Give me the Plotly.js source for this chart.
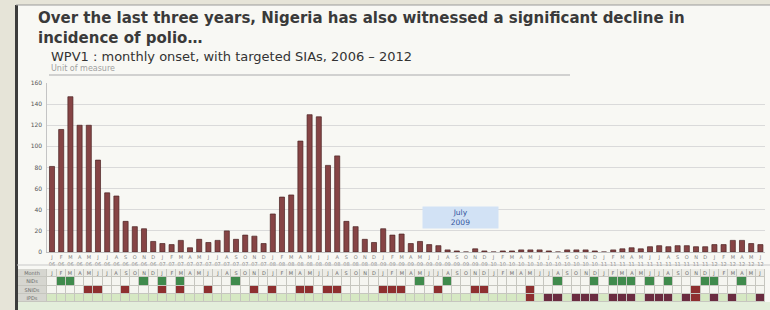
<!DOCTYPE html>
<html>
<head>
<meta charset="utf-8">
<script src="https://cdn.plot.ly/plotly-3.0.1.min.js"></script>
<style>html,body{margin:0;padding:0;background:#e6e4d8;}#chart{width:770px;height:310px;}</style>
</head>
<body>
<div id="chart"></div>
<script>
// ---- data ----
const years = [2006, 2007, 2008, 2009, 2010, 2011, 2012];
const monthInitials = ['J','F','M','A','M','J','J','A','S','O','N','D'];
const cases2006 = [81,116,147,120,120,87,56,53,29,24,22,10];
const cases2007 = [8,7,11,4,12,9,11,20,12,16,15,8];
const cases2008 = [36,52,54,105,130,128,82,91,29,24,12,9];
const cases2009 = [22,16,17,8,10,7,6,2,1,0,3,1];
const cases2010 = [0,1,1,2,2,2,1,0,2,2,2,1];
const cases2011 = [0,2,3,4,3,5,6,5,6,6,5,5];
const cases2012 = [7,7,11,11,8,7];
const yTicks = [0,20,40,60,80,100,120,140,160];
// SIA rows (1-based month columns, Jan 2006 = 1)
const siaRowLabels = ['Month','NIDs','SNIDs','IPDs'];
const greenMonths = [2,3,11,13,15,21,41,44,56,60,62,63,64,66,68,72,73,76];
const redMonths = [5,6,9,13,15,18,23,25,28,29,31,32,37,38,39,43,47,48,53,71];
const redLowerMonths = [53,71];
const darkMonths = [55,56,58,59,60,62,63,64,66,67,68,70,73,75,78];
const titleText = 'Over the last three years, Nigeria has also witnessed a significant decline in<br>incidence of polio…';
const subtitle = 'WPV1 : monthly onset, with targeted SIAs, 2006 – 2012';
const unitText = 'Unit of measure';
const noteText = 'July<br>2009';

// ---- build ----
const cases = [].concat(cases2006, cases2007, cases2008, cases2009, cases2010, cases2011, cases2012);
const n = cases.length;
const idx = cases.map((_, i) => i);
const monthLabel = idx.map(i => monthInitials[i % 12]);
const yearLabel = idx.map(i => String(years[Math.floor(i / 12)]).slice(2));
const tickText = idx.map(i => monthLabel[i] + '<br>' + yearLabel[i]);

// heatmap codes: 0 empty,1 header,2 green,3 red,4 dark,5 light green,6 label
const xEdges = [-3.8].concat(idx.map(i => i - 0.5), [n - 0.5]);
const zRows = [], tRows = [];
for (let r = 0; r < 4; r++) {
  const z = [6], t = [siaRowLabels[r]];
  for (let i = 0; i < n; i++) {
    const m = i + 1;
    let c = 0, tx = '';
    if (r === 0) { c = 1; tx = monthLabel[i]; }
    else if (r === 1) { c = greenMonths.includes(m) ? 2 : 0; }
    else if (r === 2) { c = redMonths.includes(m) ? 3 : 0; }
    else { c = redLowerMonths.includes(m) ? 3 : (darkMonths.includes(m) ? 4 : 5); }
    z.push(c); t.push(tx);
  }
  zRows.push(z); tRows.push(t);
}
const cols = ['#f5f5f0','#ececE6'.toLowerCase(),'#3f8a4c','#8e2f2f','#6a2c40','#d6e8c3','#d6d6d0'];
const cscale = cols.map((c, k) => [k / 6, c]);

const traces = [
  {
    type: 'bar', x: idx, y: cases, xaxis: 'x', yaxis: 'y',
    marker: {color: '#864445', line: {color: '#4a2222', width: 0.7}},
    hovertemplate: '%{y}<extra></extra>'
  },
  {
    type: 'heatmap', x: xEdges, y: [0,1,2,3], z: zRows, text: tRows,
    texttemplate: '%{text}', textfont: {size: 5, color: '#6a6a6a'},
    xaxis: 'x2', yaxis: 'y2', colorscale: cscale, zmin: 0, zmax: 6,
    showscale: false, xgap: 1, ygap: 1, hoverinfo: 'skip'
  }
];

const W = 770, H = 310;
const py = v => 1 - v / H;
const layout = {
  width: W, height: H,
  margin: {l: 0, r: 0, t: 0, b: 0},
  paper_bgcolor: '#e6e4d8', plot_bgcolor: 'rgba(0,0,0,0)',
  font: {family: 'DejaVu Sans', color: '#333'},
  showlegend: false, bargap: 0.45,
  xaxis: {
    domain: [47.4 / W, 765 / W], range: [-0.5, n - 0.5], anchor: 'y',
    tickvals: idx, ticktext: tickText, tickfont: {size: 5, color: '#808080'},
    showgrid: false, zeroline: false, showline: true, linecolor: '#bdbdbd', ticks: '', fixedrange: true
  },
  yaxis: {
    domain: [58 / H, 227 / H], range: [0, 160], tickvals: yTicks, anchor: 'x',
    tickfont: {size: 6, color: '#555'}, gridcolor: '#dadada', gridwidth: 1, ticklabelstandoff: 3,
    showline: true, linecolor: '#c4c4c4', zeroline: false, ticks: '', fixedrange: true
  },
  xaxis2: {
    domain: [17 / W, 765 / W], range: [-3.8, n - 0.5], anchor: 'y2', visible: false, fixedrange: true
  },
  yaxis2: {
    domain: [8 / H, 41 / H], range: [3.5, -0.5], anchor: 'x2', visible: false, fixedrange: true
  },
  shapes: [
    {type: 'rect', xref: 'paper', yref: 'paper', x0: 16 / W, x1: 1, y0: 0, y1: py(5),
     fillcolor: '#f8f8f4', line: {width: 0}, layer: 'below'},
    {type: 'rect', xref: 'paper', yref: 'paper', x0: 17 / W, x1: 1, y0: 0, y1: py(302),
     fillcolor: '#e3eedb', line: {width: 0}, layer: 'below'},
    {type: 'rect', xref: 'x2 domain', yref: 'y2 domain', x0: 0, x1: 1, y0: 0, y1: 1,
     fillcolor: '#c6c6bf', line: {width: 0}, layer: 'below'},
    {type: 'line', xref: 'paper', yref: 'paper', x0: 16.5 / W, x1: 16.5 / W, y0: 0, y1: py(5),
     line: {color: '#3c3c3c', width: 3}},
    {type: 'line', xref: 'paper', yref: 'paper', x0: 16 / W, x1: 1, y0: py(5), y1: py(5),
     line: {color: '#9a9a9a', width: 1}},
    {type: 'line', xref: 'paper', yref: 'paper', x0: 49 / W, x1: 570 / W, y0: py(75), y1: py(75),
     line: {color: '#c4c4c4', width: 1.5}},
    {type: 'line', xref: 'paper', yref: 'paper', x0: 17 / W, x1: 1, y0: py(265), y1: py(265),
     line: {color: '#c8c8c8', width: 1}}
  ],
  annotations: [
    {xref: 'paper', yref: 'paper', x: 36 / W, y: py(7), xanchor: 'left', yanchor: 'top', align: 'left',
     text: '<b>' + titleText + '</b>', showarrow: false, font: {size: 15, color: '#3a3a3a'}},
    {xref: 'paper', yref: 'paper', x: 49 / W, y: py(57), xanchor: 'left', yanchor: 'middle',
     text: subtitle, showarrow: false, font: {size: 13, color: '#333'}},
    {xref: 'paper', yref: 'paper', x: 49 / W, y: py(68.5), xanchor: 'left', yanchor: 'middle',
     text: unitText, showarrow: false, font: {size: 8, color: '#a0a0a0'}},
    {xref: 'x', yref: 'y', x: 44.4, y: 33, text: noteText, showarrow: false,
     font: {size: 7.5, color: '#34579e'}, bgcolor: '#d2e2f5', width: 75, height: 21, borderpad: 0}
  ]
};

Plotly.newPlot('chart', traces, layout, {displayModeBar: false, staticPlot: true});
</script>
</body>
</html>
